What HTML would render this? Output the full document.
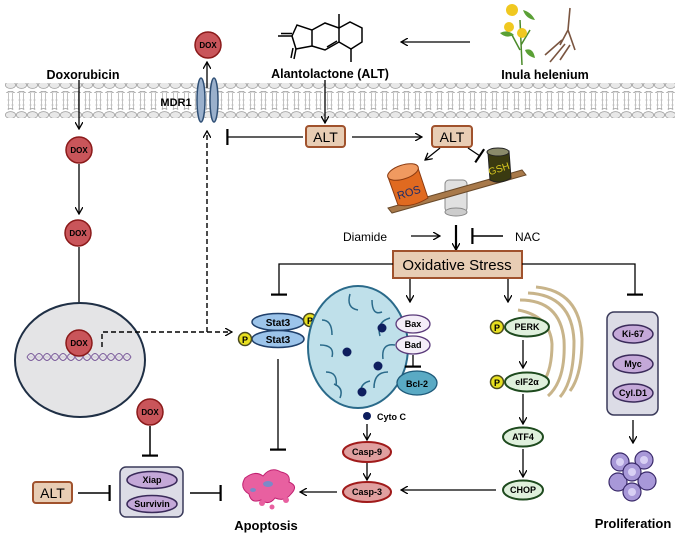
<!DOCTYPE html>
<html><head><meta charset="utf-8"><style>
html,body{margin:0;padding:0;background:#fff}
svg{display:block}
text{font-family:"Liberation Sans",sans-serif}
</style></head><body>
<svg width="675" height="536" viewBox="0 0 675 536" xmlns="http://www.w3.org/2000/svg">
<defs>
<marker id="a" markerWidth="8" markerHeight="8" refX="7" refY="4" orient="auto" markerUnits="userSpaceOnUse"><path d="M0,0 L7,4 L0,8" fill="none" stroke="#000" stroke-width="1.3"/></marker>
<marker id="t" markerWidth="3" markerHeight="16" refX="1.5" refY="8" orient="auto" markerUnits="userSpaceOnUse"><rect x="0" y="0" width="2.2" height="16" fill="#000"/></marker>
<pattern id="mem" x="5" y="0" width="11" height="40" patternUnits="userSpaceOnUse">
<ellipse cx="5.5" cy="88" rx="5.3" ry="3.3" fill="#e6e6e6" stroke="#9a9a9a" stroke-width="0.7"/>
</pattern>
</defs>
<!-- membrane -->
<g>
<g id="lip">
</g>
</g>
<g fill="#e4e4e4" stroke="#999" stroke-width="0.7">
<script></script>
</g>
<g id="membrane"></g>
<!-- membrane drawn via repeated elements -->
<g stroke="#aaa" stroke-width="0.6">
<path d="M5,92 H675 M5,109 H675" stroke="none"/>
</g>
<g>
<rect x="5" y="91" width="670" height="19" fill="url(#tails)"/>
</g>
<defs>
<pattern id="tails" x="5" y="0" width="11" height="19" patternUnits="userSpaceOnUse">
<path d="M3.5,0 V19 M7.5,0 V19" stroke="#aaa" stroke-width="0.7"/>
<path d="M2,5 H5 M6,5 H9 M2,10 H5 M6,10 H9 M2,15 H5 M6,15 H9" stroke="#bbb" stroke-width="0.5"/>
</pattern>
<pattern id="heads" x="5" y="0" width="11" height="10" patternUnits="userSpaceOnUse">
<ellipse cx="5.5" cy="5" rx="5.2" ry="3.4" fill="#e8e8e8" stroke="#999" stroke-width="0.7"/>
</pattern>
</defs>
<rect x="5" y="83" width="670" height="10" fill="url(#heads)" style="transform:translateY(0)"/>
<rect x="5" y="108" width="670" height="10" fill="url(#heads)"/>

<!-- left DOX chain -->
<text x="83" y="79" font-size="12.5" font-weight="bold" text-anchor="middle">Doxorubicin</text>
<line x1="79" y1="80" x2="79" y2="129" stroke="#000" stroke-width="1.3" marker-end="url(#a)"/>
<g font-size="8" font-weight="bold" text-anchor="middle">
<circle cx="79" cy="150" r="13" fill="#c9555a" stroke="#8b1a1a" stroke-width="1.5"/><text x="79" y="153">DOX</text>
<line x1="79" y1="164" x2="79" y2="214" stroke="#000" stroke-width="1.3" marker-end="url(#a)"/>
<circle cx="78" cy="233" r="13" fill="#c9555a" stroke="#8b1a1a" stroke-width="1.5"/><text x="78" y="236">DOX</text>
</g>
<line x1="79" y1="247" x2="79" y2="318" stroke="#000" stroke-width="1.3" marker-end="url(#a)"/>
<!-- nucleus -->
<ellipse cx="80" cy="360" rx="65" ry="57" fill="#e4e4e6" stroke="#1f2f45" stroke-width="2"/>
<g fill="none" stroke="#7a5a9a" stroke-width="1">
<path d="M27,357 q4,-7 8,0 t8,0 t8,0 t8,0 t8,0 t8,0 t8,0 t8,0 t8,0 t8,0 t8,0 t8,0 t8,0"/>
<path d="M27,357 q4,7 8,0 t8,0 t8,0 t8,0 t8,0 t8,0 t8,0 t8,0 t8,0 t8,0 t8,0 t8,0 t8,0"/>
</g>
<g stroke="#b9a8cc" stroke-width="0.6"><path d="M29,357 H130"/></g>
<circle cx="79" cy="343" r="13" fill="#c9555a" stroke="#8b1a1a" stroke-width="1.5"/>
<text x="79" y="346" font-size="8" font-weight="bold" text-anchor="middle">DOX</text>
<!-- dashed -->
<path d="M102,347 V332 H232" fill="none" stroke="#000" stroke-width="1.4" stroke-dasharray="5,3" marker-end="url(#a)"/>
<path d="M207,332 V131" fill="none" stroke="#000" stroke-width="1.4" stroke-dasharray="5,3" marker-end="url(#a)"/>

<!-- MDR1 -->
<ellipse cx="201" cy="100" rx="4" ry="22" fill="#9ab0cc" stroke="#2f4f75" stroke-width="1.5"/>
<ellipse cx="214" cy="100" rx="4" ry="22" fill="#9ab0cc" stroke="#2f4f75" stroke-width="1.5"/>
<text x="176" y="106" font-size="11" font-weight="bold" text-anchor="middle">MDR1</text>
<line x1="207" y1="88" x2="207" y2="62" stroke="#000" stroke-width="1.3" marker-end="url(#a)"/>
<circle cx="208" cy="45" r="13" fill="#c9555a" stroke="#8b1a1a" stroke-width="1.5"/>
<text x="208" y="48" font-size="8" font-weight="bold" text-anchor="middle">DOX</text>

<!-- Alantolactone structure -->
<g fill="none" stroke="#000" stroke-width="1.5">
<path d="M292,36 L297,25 L312,30 L312,46 L296,49 Z"/>
<path d="M292,36 H278"/><path d="M292,33.5 H281"/>
<path d="M296,49 L294,59 M293,48 L291,58"/>
<path d="M312,30 L325,23 L339,28 L339,42 L325,50 L312,46"/>
<path d="M327,47 L337,41"/>
<path d="M339,28 L339,14 M339,28 L350,22 L362,28 L362,42 L351,49 L339,42"/>
<path d="M351,49 V62"/>
</g>
<text x="330" y="78" font-size="12.5" font-weight="bold" text-anchor="middle">Alantolactone  (ALT)</text>
<line x1="325" y1="80" x2="325" y2="123" stroke="#000" stroke-width="1.3" marker-end="url(#a)"/>

<!-- plant -->
<g>
<path d="M520,20 L522,65 M512,35 L520,50 M530,30 L521,45" stroke="#4a8a2a" stroke-width="1.5" fill="none"/>
<path d="M500,33 q8,-4 14,2 q-8,4 -14,-2Z M523,10 q8,2 12,10 q-9,-1 -12,-10Z M525,50 q8,-3 10,8 q-8,-2 -10,-8Z" fill="#5aa035"/>
<circle cx="512" cy="10" r="6" fill="#f0c820"/><circle cx="509" cy="27" r="5" fill="#f0c820"/><circle cx="522" cy="33" r="5" fill="#f0c820"/>
<path d="M570,8 L568,30 L560,45 M568,30 L575,50 M562,40 L545,55 M565,44 L550,62 M570,45 L560,60" stroke="#7a5540" stroke-width="1.6" fill="none"/>
</g>
<text x="545" y="79" font-size="12.5" font-weight="bold" text-anchor="middle">Inula helenium</text>
<line x1="470" y1="42" x2="401" y2="42" stroke="#000" stroke-width="1.3" marker-end="url(#a)"/>

<!-- ALT boxes -->
<rect x="306" y="126" width="39" height="21" rx="3" fill="#e8cdb4" stroke="#a0522d" stroke-width="2"/>
<text x="325.5" y="142" font-size="14" text-anchor="middle">ALT</text>
<line x1="303" y1="137" x2="227" y2="137" stroke="#000" stroke-width="1.3" marker-end="url(#t)"/>
<line x1="352" y1="137" x2="422" y2="137" stroke="#000" stroke-width="1.3" marker-end="url(#a)"/>
<rect x="432" y="126" width="40" height="21" rx="3" fill="#e8cdb4" stroke="#a0522d" stroke-width="2"/>
<text x="452" y="142" font-size="14" text-anchor="middle">ALT</text>
<line x1="440" y1="148" x2="425" y2="160" stroke="#000" stroke-width="1.2" marker-end="url(#a)"/>
<line x1="468" y1="148" x2="480" y2="156" stroke="#000" stroke-width="1.2" marker-end="url(#t)"/>

<!-- seesaw -->
<rect x="445" y="180" width="22" height="32" rx="4" fill="#e0e0e0" stroke="#888"/>
<ellipse cx="456" cy="212" rx="11" ry="4" fill="#ccc" stroke="#888"/>
<polygon points="388,208 522,170 526,175 392,213" fill="#a8794a" stroke="#6a4a2a"/>
<path d="M388,177 L398,205 Q412,208 428,198 L418,168 Z" fill="#e06a20" stroke="#8a3a10"/>
<ellipse cx="403" cy="172" rx="16" ry="7" transform="rotate(-18 403 172)" fill="#f09a60" stroke="#8a3a10"/>
<text x="410" y="196" font-size="11" fill="#1a2a6a" transform="rotate(-18 410 196)" text-anchor="middle">ROS</text>
<path d="M488,153 L490,180 Q500,185 511,178 L509,151 Z" fill="#3a3a10" stroke="#222"/>
<ellipse cx="498" cy="152" rx="11" ry="4" fill="#8a8a6a" stroke="#222"/>
<text x="500" y="172" font-size="10" fill="#d8c820" transform="rotate(-18 500 172)" text-anchor="middle">GSH</text>

<!-- Diamide / NAC -->
<text x="343" y="241" font-size="12">Diamide</text>
<line x1="411" y1="236" x2="440" y2="236" stroke="#000" stroke-width="1.3" marker-end="url(#a)"/>
<line x1="456" y1="225" x2="456" y2="250" stroke="#000" stroke-width="2.2" marker-end="url(#a)"/>
<line x1="503" y1="236" x2="472" y2="236" stroke="#000" stroke-width="1.5" marker-end="url(#t)"/>
<text x="515" y="241" font-size="12">NAC</text>

<!-- Oxidative stress -->
<rect x="393" y="251" width="129" height="27" fill="#e8cdb4" stroke="#a0522d" stroke-width="2"/>
<text x="457" y="270" font-size="15" text-anchor="middle">Oxidative Stress</text>
<path d="M393,264 H279 V295" fill="none" stroke="#000" stroke-width="1.3" marker-end="url(#t)"/>
<path d="M522,264 H635 V295" fill="none" stroke="#000" stroke-width="1.3" marker-end="url(#t)"/>
<line x1="410" y1="279" x2="410" y2="302" stroke="#000" stroke-width="1.3" marker-end="url(#a)"/>
<line x1="508" y1="279" x2="508" y2="302" stroke="#000" stroke-width="1.3" marker-end="url(#a)"/>

<!-- Stat3 -->
<g font-size="10" font-weight="bold" text-anchor="middle">
<ellipse cx="278" cy="322" rx="26" ry="8.5" fill="#9cc4ea" stroke="#1f3f6a" stroke-width="1.5"/><text x="278" y="326">Stat3</text>
<ellipse cx="278" cy="339" rx="26" ry="8.5" fill="#9cc4ea" stroke="#1f3f6a" stroke-width="1.5"/><text x="278" y="343">Stat3</text>
<circle cx="310" cy="320" r="6.5" fill="#e8e020" stroke="#4a4a20" stroke-width="1.5"/><text x="310" y="324" font-size="9">P</text>
<circle cx="245" cy="339" r="6.5" fill="#e8e020" stroke="#4a4a20" stroke-width="1.5"/><text x="245" y="343" font-size="9">P</text>
</g>
<line x1="278" y1="359" x2="278" y2="450" stroke="#000" stroke-width="1.3" marker-end="url(#t)"/>

<!-- mitochondria -->
<ellipse cx="358" cy="347" rx="50" ry="61" fill="#bfe0ea" stroke="#2a6a8a" stroke-width="2"/>
<path d="M322,320 q10,0 10,15 M320,345 q15,0 12,12 M326,372 q12,0 10,14 M350,294 q-4,14 8,16 M372,300 q0,16 10,12 M390,318 q-14,4 -10,18 M395,345 q-14,-2 -12,14 M388,372 q-14,0 -14,16 M360,395 q0,-12 10,-14 M340,398 q4,-10 -6,-14" fill="none" stroke="#2a6a8a" stroke-width="1.5"/>
<g fill="#0e1e5e"><circle cx="382" cy="328" r="4.5"/><circle cx="347" cy="352" r="4.5"/><circle cx="378" cy="366" r="4.5"/><circle cx="362" cy="392" r="4.5"/></g>
<g font-size="9" font-weight="bold" text-anchor="middle">
<ellipse cx="413" cy="324" rx="17" ry="9" fill="#f4eef8" stroke="#5a3a7a" stroke-width="1.3"/><text x="413" y="327">Bax</text>
<ellipse cx="413" cy="345" rx="17" ry="9" fill="#f4eef8" stroke="#5a3a7a" stroke-width="1.3"/><text x="413" y="348">Bad</text>
<ellipse cx="417" cy="383" rx="20" ry="12" fill="#5aaac4" stroke="#1e5a7a" stroke-width="1.3"/><text x="417" y="387">Bcl-2</text>
</g>
<line x1="413" y1="355" x2="413" y2="367" stroke="#000" stroke-width="1.3" marker-end="url(#t)"/>
<circle cx="367" cy="416" r="4" fill="#0e1e5e"/>
<text x="377" y="420" font-size="9" font-weight="bold">Cyto C</text>
<line x1="367" y1="424" x2="367" y2="440" stroke="#000" stroke-width="1.3" marker-end="url(#a)"/>
<g font-size="9" font-weight="bold" text-anchor="middle">
<ellipse cx="367" cy="452" rx="24" ry="10" fill="#e0a0a0" stroke="#a01a1a" stroke-width="2"/><text x="367" y="455">Casp-9</text>
<ellipse cx="367" cy="492" rx="24" ry="10" fill="#e0a0a0" stroke="#a01a1a" stroke-width="2"/><text x="367" y="495">Casp-3</text>
</g>
<line x1="367" y1="463" x2="367" y2="480" stroke="#000" stroke-width="1.3" marker-end="url(#a)"/>
<line x1="337" y1="492" x2="300" y2="492" stroke="#000" stroke-width="1.3" marker-end="url(#a)"/>

<!-- ER -->
<g fill="none" stroke="#c8b48a" stroke-width="3">
<path d="M520,300 q40,0 44,40 q2,40 -16,56"/>
<path d="M528,293 q44,2 46,48 q0,40 -14,56"/>
<path d="M536,287 q44,4 46,52 q0,36 -12,52"/>
<path d="M518,310 q32,6 34,34 q0,30 -12,42"/>
</g>
<!-- PERK chain -->
<g font-size="9" font-weight="bold" text-anchor="middle">
<ellipse cx="527" cy="327" rx="22" ry="9.5" fill="#dff0dc" stroke="#1e4a1e" stroke-width="2"/><text x="527" y="330">PERK</text>
<circle cx="497" cy="327" r="6.5" fill="#e8e020" stroke="#4a4a20" stroke-width="1.5"/><text x="497" y="331">P</text>
<ellipse cx="527" cy="382" rx="22" ry="9.5" fill="#dff0dc" stroke="#1e4a1e" stroke-width="2"/><text x="527" y="385">eIF2α</text>
<circle cx="497" cy="382" r="6.5" fill="#e8e020" stroke="#4a4a20" stroke-width="1.5"/><text x="497" y="386">P</text>
<ellipse cx="523" cy="437" rx="20" ry="9.5" fill="#dff0dc" stroke="#1e4a1e" stroke-width="2"/><text x="523" y="440">ATF4</text>
<ellipse cx="523" cy="490" rx="20" ry="9.5" fill="#dff0dc" stroke="#1e4a1e" stroke-width="2"/><text x="523" y="493">CHOP</text>
</g>
<line x1="523" y1="340" x2="523" y2="368" stroke="#000" stroke-width="1.3" marker-end="url(#a)"/>
<line x1="523" y1="394" x2="523" y2="424" stroke="#000" stroke-width="1.3" marker-end="url(#a)"/>
<line x1="523" y1="449" x2="523" y2="477" stroke="#000" stroke-width="1.3" marker-end="url(#a)"/>
<line x1="496" y1="490" x2="401" y2="490" stroke="#000" stroke-width="1.3" marker-end="url(#a)"/>

<!-- Proliferation -->
<rect x="607" y="312" width="51" height="103" rx="7" fill="#dcdce6" stroke="#3a3a5a" stroke-width="1.5"/>
<g font-size="9" font-weight="bold" text-anchor="middle">
<ellipse cx="633" cy="334" rx="20" ry="9" fill="#c4a8d8" stroke="#3a2a5a" stroke-width="1.5"/><text x="633" y="337">Ki-67</text>
<ellipse cx="633" cy="364" rx="20" ry="9" fill="#c4a8d8" stroke="#3a2a5a" stroke-width="1.5"/><text x="633" y="367">Myc</text>
<ellipse cx="633" cy="393" rx="20" ry="9" fill="#c4a8d8" stroke="#3a2a5a" stroke-width="1.5"/><text x="633" y="396">Cyl.D1</text>
</g>
<line x1="633" y1="420" x2="633" y2="443" stroke="#000" stroke-width="1.3" marker-end="url(#a)"/>
<g fill="#a898d8" stroke="#3a2a6a" stroke-width="1.2">
<circle cx="620" cy="462" r="9"/><circle cx="644" cy="460" r="9"/><circle cx="618" cy="482" r="9"/><circle cx="647" cy="481" r="9"/><circle cx="632" cy="492" r="9"/><circle cx="632" cy="472" r="9"/>
</g>
<g fill="#d8d0f4"><circle cx="620" cy="462" r="4"/><circle cx="644" cy="460" r="4"/><circle cx="632" cy="472" r="4"/><circle cx="632" cy="492" r="4"/></g>
<text x="633" y="528" font-size="13" font-weight="bold" text-anchor="middle">Proliferation</text>

<!-- Apoptosis -->
<path d="M245,478 q10,-8 18,-2 q8,-10 18,-4 q10,2 8,10 q10,4 2,12 q-6,8 -16,4 q-6,8 -14,2 q-10,4 -12,-6 q-10,-6 -4,-16Z" fill="#e860a0" stroke="#c02070"/>
<ellipse cx="268" cy="484" rx="5" ry="3" fill="#7a8ac8"/><ellipse cx="253" cy="490" rx="3" ry="2" fill="#7a8ac8"/>
<circle cx="262" cy="503" r="3" fill="#e860a0"/><circle cx="272" cy="507" r="2.5" fill="#e860a0"/><circle cx="286" cy="500" r="3" fill="#e860a0"/>
<text x="266" y="530" font-size="13" font-weight="bold" text-anchor="middle">Apoptosis</text>

<!-- bottom-left -->
<circle cx="150" cy="412" r="13" fill="#c9555a" stroke="#8b1a1a" stroke-width="1.5"/>
<text x="150" y="415" font-size="8" font-weight="bold" text-anchor="middle">DOX</text>
<line x1="150" y1="426" x2="150" y2="456" stroke="#000" stroke-width="1.5" marker-end="url(#t)"/>
<rect x="120" y="467" width="63" height="50" rx="6" fill="#dcdce6" stroke="#3a3a5a" stroke-width="1.5"/>
<g font-size="9" font-weight="bold" text-anchor="middle">
<ellipse cx="152" cy="480" rx="25" ry="8.5" fill="#c4a8d8" stroke="#3a2a5a" stroke-width="1.5"/><text x="152" y="483">Xiap</text>
<ellipse cx="152" cy="504" rx="25" ry="8.5" fill="#c4a8d8" stroke="#3a2a5a" stroke-width="1.5"/><text x="152" y="507">Survivin</text>
</g>
<rect x="33" y="482" width="39" height="21" rx="3" fill="#e8cdb4" stroke="#a0522d" stroke-width="2"/>
<text x="52.5" y="498" font-size="14" text-anchor="middle">ALT</text>
<line x1="78" y1="493" x2="110" y2="493" stroke="#000" stroke-width="1.5" marker-end="url(#t)"/>
<line x1="190" y1="493" x2="221" y2="493" stroke="#000" stroke-width="1.5" marker-end="url(#t)"/>
</svg>
</body></html>
